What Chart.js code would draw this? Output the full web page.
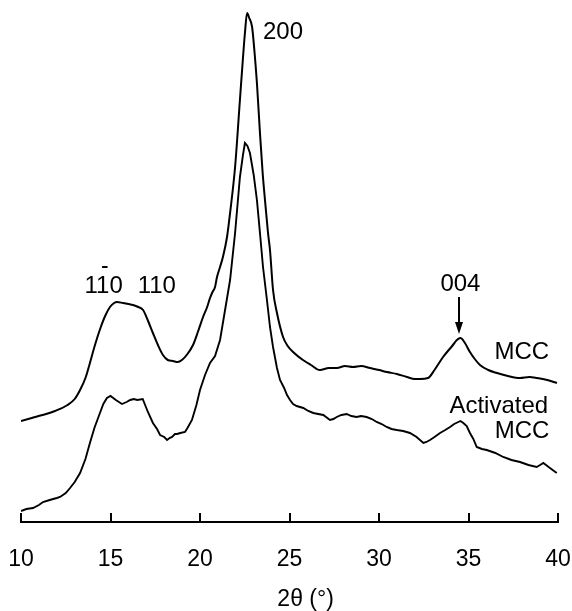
<!DOCTYPE html>
<html>
<head>
<meta charset="utf-8">
<script src="https://cdn.jsdelivr.net/npm/chart.js@4"></script>
<style>
html,body{margin:0;padding:0;background:#fff;}
canvas{display:block;}
</style>
</head>
<body>
<canvas id="c" width="572" height="611"></canvas>
<script>
// 2θ (degrees) and intensity (arbitrary units, offset curves)
const mccX = [10.0,10.6,11.2,11.9,12.6,13.0,13.3,13.6,13.85,14.1,14.4,14.7,14.97,15.2,15.36,15.7,16.0,16.26,16.55,16.82,17.1,17.37,17.65,17.93,18.2,18.49,18.75,18.99,19.3,19.61,19.9,20.17,20.4,20.56,20.7,20.84,20.95,21.12,21.28,21.51,21.68,21.96,22.23,22.4,22.51,22.63,22.75,22.91,23.05,23.18,23.35,23.5,23.63,23.8,23.91,24.08,24.3,24.64,24.9,25.2,25.75,26.2,26.7,27.2,27.65,28.1,28.55,29.0,29.5,30.0,30.45,31.0,31.56,32.0,32.29,32.74,33.1,33.58,34.13,34.35,34.55,34.8,35.08,35.35,35.64,36.1,36.59,37.2,37.88,38.4,38.83,39.4,39.94];
const mccY = [102,105,108,112,118,124,133,145,160,176,193,207,216,220,221,220,219,218,216,213,202,190,178,168,163,162,161,163,169,178,192,206,216,225,231,236,246,256,266,286,310,356,423,465,490,510,505,496,470,440,390,350,323,290,273,233,210,186,177,171,163,158,153,155,155,157,156,157,155,153,151,149,146,144,144,145,153,166,178,183,185,180,171,164,158,153,150,147,145,146,145,143,140];
const actX = [10.0,10.3,10.67,11.0,11.23,11.6,12.0,12.18,12.5,12.74,13.0,13.3,13.6,13.85,14.1,14.41,14.6,14.8,15.0,15.3,15.64,15.9,16.1,16.3,16.5,16.8,17.09,17.37,17.6,17.77,18.0,18.16,18.3,18.44,18.6,18.72,18.9,19.16,19.3,19.55,19.8,20.0,20.28,20.56,20.84,21.12,21.4,21.68,21.96,22.23,22.4,22.51,22.65,22.79,23.0,23.18,23.35,23.52,23.74,23.91,24.08,24.3,24.47,24.7,24.86,25.03,25.2,25.4,25.77,26.05,26.33,26.6,26.89,27.26,27.45,27.64,27.9,28.2,28.45,28.75,29.0,29.31,29.6,29.87,30.15,30.43,30.7,30.99,31.35,31.73,32.1,32.48,32.65,32.85,33.1,33.41,33.7,33.97,34.2,34.43,34.55,34.71,34.9,35.08,35.27,35.46,35.75,36.02,36.5,36.94,37.4,37.88,38.35,38.81,39.0,39.18,39.55,39.93];
const actY = [12,14,15,18,21,23,25,26,30,35,41,50,64,80,95,110,119,125,127,123,119,121,123,124,123,124,111,100,94,88,86,83,85,86,89,89,90,91,95,103,118,133,148,160,167,183,213,243,290,346,368,380,377,370,348,323,290,256,223,196,176,155,143,135,128,123,119,117,115,112,110,109,108,103,104,106,108,109,107,106,107,106,104,101,99,96,94,93,92,90,86,80,81,83,86,90,93,96,99,101,102,100,97,90,84,76,74,73,70,66,63,61,58,56,58,60,55,50];
const tickValues = [10,15,20,25,30,35,40];
const seriesNames = ['MCC','Activated MCC'];
const peakLabels = ['200','110','110','004'];
const axisTitle = '2θ (°)';

const FONT = '"Liberation Sans", Arial, Helvetica, sans-serif';
const toPts = (xs, ys) => xs.map((x,i)=>({x:x, y:ys[i]}));

const decor = {
  id:'decor',
  afterDatasetsDraw(chart){
    const ctx = chart.ctx, xs = chart.scales.x, ys = chart.scales.y;
    const px = v => xs.getPixelForValue(v), py = v => ys.getPixelForValue(v);
    ctx.save();
    ctx.strokeStyle = '#000'; ctx.fillStyle = '#000'; ctx.lineWidth = 2;
    // tick marks pointing up into the plot
    const base = chart.chartArea.bottom;
    tickValues.forEach(t=>{
      const x = Math.round(px(t));
      ctx.beginPath(); ctx.moveTo(x, base); ctx.lineTo(x, base-9); ctx.stroke();
    });
    ctx.font = '24px ' + FONT;
    ctx.textBaseline = 'middle';
    ctx.textAlign = 'left';
    ctx.fillText(peakLabels[0], px(23.52), py(491));
    ctx.fillText(peakLabels[1], px(13.55), py(237));
    ctx.fillText(peakLabels[2], px(16.52), py(237));
    // overbar on the middle digit of the first 110 label
    const w1 = ctx.measureText('1').width;
    const bx = px(13.55) + w1*1.5;
    ctx.beginPath(); ctx.moveTo(bx-2.5, py(256)); ctx.lineTo(bx+3, py(256)); ctx.stroke();
    ctx.textAlign = 'center';
    ctx.fillText(peakLabels[3], px(34.55), py(239));
    // arrow to the 004 peak
    const ax = Math.round(px(34.47));
    ctx.beginPath(); ctx.moveTo(ax, py(226)); ctx.lineTo(ax, py(198)); ctx.stroke();
    ctx.beginPath();
    ctx.moveTo(ax-4, py(201)); ctx.lineTo(ax+4, py(201)); ctx.lineTo(ax, py(189)); ctx.closePath(); ctx.fill();
    // series names
    ctx.textAlign = 'right';
    ctx.fillText(seriesNames[0], px(39.5), py(171));
    ctx.fillText('Activated', px(39.45), py(117));
    ctx.fillText('MCC', px(39.52), py(92));
    // axis title
    ctx.textAlign = 'center';
    ctx.font = '23px ' + FONT;
    ctx.fillText(axisTitle, px(25.9), 600);
    ctx.restore();
  }
};

new Chart(document.getElementById('c'), {
  type:'line',
  data:{
    datasets:[
      {label:seriesNames[0], data:toPts(mccX,mccY), borderColor:'#000', borderWidth:2, pointRadius:0, cubicInterpolationMode:'monotone', fill:false},
      {label:seriesNames[1], data:toPts(actX,actY), borderColor:'#000', borderWidth:1.9, pointRadius:0, tension:0, fill:false}
    ]
  },
  options:{
    responsive:false, animation:false, devicePixelRatio:1,
    layout:{padding:{left:21, right:14, top:0, bottom:0}},
    plugins:{legend:{display:false}, tooltip:{enabled:false}},
    scales:{
      x:{
        type:'linear', min:10, max:40,
        afterBuildTicks: s => { s.ticks = tickValues.map(v=>({value:v})); },
        afterFit: s => { s.paddingLeft = 0; s.paddingRight = 0; s.height = 89; },
        grid:{display:true, drawOnChartArea:false, drawTicks:false, color:'#000'},
        border:{display:true, color:'#000', width:2},
        ticks:{color:'#000', font:{family:FONT, size:23}, padding:24, maxRotation:0, autoSkip:false},
        title:{display:false}
      },
      y:{ display:false, min:1, max:523 }
    }
  },
  plugins:[decor]
});
</script>
</body>
</html>
